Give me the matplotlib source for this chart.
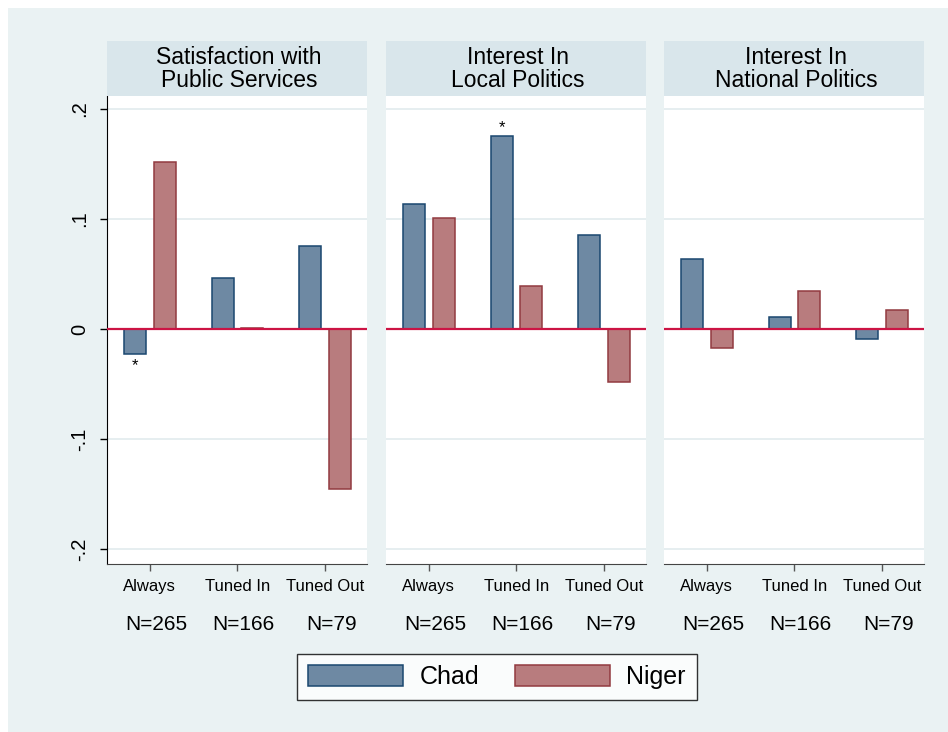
import matplotlib.pyplot as plt
from matplotlib.patches import Rectangle
import numpy as np

plt.rcParams['font.family'] = ['Liberation Sans', 'DejaVu Sans']

panels = ['Satisfaction with\nPublic Services',
          'Interest In\nLocal Politics',
          'Interest In\nNational Politics']
groups = ['Always', 'Tuned In', 'Tuned Out']
n_labels = ['N=265', 'N=166', 'N=79']
chad = [[-0.023, 0.046, 0.075],
        [0.114, 0.175, 0.085],
        [0.064, 0.011, -0.009]]
niger = [[0.152, 0.001, -0.145],
         [0.101, 0.039, -0.048],
         [-0.017, 0.035, 0.017]]
# (panel, group, series) with a significance star
stars = [(0, 0, 'chad'), (1, 1, 'chad')]

W, H = 948, 732
bg = '#EAF2F3'
head = '#D9E6EB'
chad_fill, chad_edge = '#6E89A3', '#1A476F'
niger_fill, niger_edge = '#B87C7E', '#923A40'
zero_col = '#CC1444'

fig = plt.figure(figsize=(W / 100, H / 100), dpi=100, facecolor=bg)
# white strip along top and left edge
fig.patches.append(Rectangle((0, 1 - 8 / H), 1, 8 / H, transform=fig.transFigure,
                             facecolor='white', edgecolor='none', zorder=0))
fig.patches.append(Rectangle((0, 0), 8 / W, 1, transform=fig.transFigure,
                             facecolor='white', edgecolor='none', zorder=0))

lefts = [107, 386, 664]
pw = 260
top, bottom = 96, 564
head_top = 41
x = np.arange(3)
bw = 0.25
off = 0.168

for i, left in enumerate(lefts):
    ax = fig.add_axes([left / W, (H - bottom) / H, pw / W, (bottom - top) / H])
    ax.set_facecolor('white')
    # panel header
    fig.patches.append(Rectangle((left / W, (H - top) / H), pw / W, (top - head_top) / H,
                                 transform=fig.transFigure, facecolor=head,
                                 edgecolor='none'))
    fig.text((left + pw / 2 + 2) / W, (H - 69) / H, panels[i],
             ha='center', va='center', fontsize=16.5, linespacing=1.02)

    for g in [-0.2, -0.1, 0.1, 0.2]:
        ax.axhline(g, color='#E4EDEF', lw=1.3, zorder=0)
    ax.axhline(0, color=zero_col, lw=1.6, zorder=3)

    ax.bar(x - off, chad[i], bw, color=chad_fill, edgecolor=chad_edge, lw=1.1, zorder=2)
    ax.bar(x + off, niger[i], bw, color=niger_fill, edgecolor=niger_edge, lw=1.1, zorder=2)

    for p, g, s in stars:
        if p == i:
            v = chad[p][g] if s == 'chad' else niger[p][g]
            xs = g - off if s == 'chad' else g + off
            ax.annotate('*', (xs, v), xytext=(0, -3 if v < 0 else 1),
                        textcoords='offset points', ha='center',
                        va='top' if v < 0 else 'bottom', fontsize=12)

    ax.set_xlim(-0.49, 2.48)
    ax.set_ylim(-0.2136, 0.2118)
    ax.set_xticks(x)
    ax.set_xticklabels(groups, fontsize=12)
    ax.tick_params(axis='x', length=5, width=1, color='#555555', pad=6)
    for k, lab in enumerate(n_labels):
        ax.text(k + 0.07, -0.13, lab, transform=ax.get_xaxis_transform(),
                ha='center', va='center', fontsize=15)

    for s in ['top', 'right']:
        ax.spines[s].set_visible(False)
    ax.spines['bottom'].set_color('#444444')
    if i == 0:
        ax.set_yticks([-0.2, -0.1, 0, 0.1, 0.2])
        ax.set_yticklabels(['-.2', '-.1', '0', '.1', '.2'], fontsize=14.5,
                           rotation=90, va='center')
        ax.tick_params(axis='y', length=5, width=1, pad=8)
        ax.spines['left'].set_color('black')
        h1 = ax.patches[0]
        h2 = ax.patches[3]
    else:
        ax.set_yticks([])
        ax.spines['left'].set_visible(False)

leg = fig.legend([h1, h2], ['Chad', 'Niger'], ncol=2, loc='center',
                 bbox_to_anchor=(497 / W, 1 - 677 / H), fontsize=18,
                 frameon=True, fancybox=False, edgecolor='black',
                 handlelength=3.8, handleheight=0.95, handletextpad=0.65,
                 columnspacing=1.45, borderpad=0.45)
leg.get_frame().set_linewidth(1.0)

fig.savefig('out.png', dpi=100, facecolor=bg)
